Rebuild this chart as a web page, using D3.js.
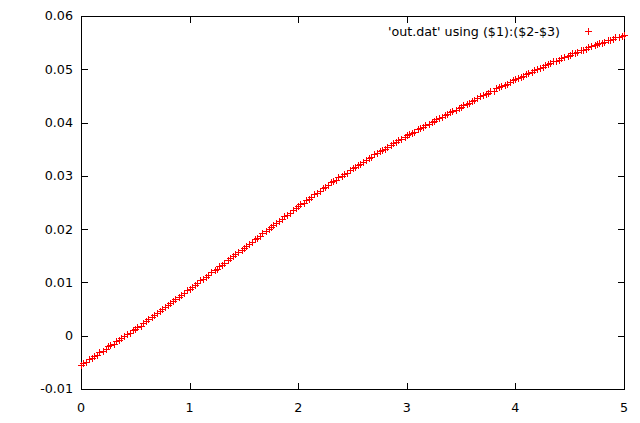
<!DOCTYPE html>
<html>
<head>
<meta charset="utf-8">
<script src="https://cdn.jsdelivr.net/npm/d3@7"></script>
<style>
html,body{margin:0;padding:0;background:#fff;}
svg{display:block;}
text{font-family:"DejaVu Sans",sans-serif;font-size:12.7px;fill:#000;}
</style>
</head>
<body>
<script>
const xTicks = [0, 1, 2, 3, 4, 5];
const yTicks = [-0.01, 0, 0.01, 0.02, 0.03, 0.04, 0.05, 0.06];
const legendLabel = "'out.dat' using ($1):($2-$3)";

const xs = [
0,0.02,0.05,0.07,0.10,0.12,0.15,0.17,0.20,0.23,
0.25,0.27,0.30,0.32,0.35,0.37,0.40,0.42,0.45,0.48,
0.50,0.52,0.55,0.57,0.60,0.62,0.65,0.67,0.70,0.73,
0.75,0.77,0.80,0.82,0.85,0.87,0.90,0.92,0.95,0.98,
1.00,1.02,1.05,1.07,1.10,1.12,1.15,1.17,1.20,1.23,
1.25,1.27,1.30,1.32,1.35,1.37,1.40,1.42,1.45,1.48,
1.50,1.52,1.55,1.57,1.60,1.62,1.65,1.67,1.70,1.73,
1.75,1.77,1.80,1.82,1.85,1.87,1.90,1.92,1.95,1.98,
2.00,2.02,2.05,2.07,2.10,2.12,2.15,2.17,2.20,2.23,
2.25,2.27,2.30,2.32,2.35,2.37,2.40,2.42,2.45,2.48,
2.50,2.52,2.55,2.57,2.60,2.62,2.65,2.67,2.70,2.73,
2.75,2.77,2.80,2.82,2.85,2.87,2.90,2.92,2.95,2.98,
3.00,3.02,3.05,3.07,3.10,3.12,3.15,3.17,3.20,3.23,
3.25,3.27,3.30,3.32,3.35,3.37,3.40,3.42,3.45,3.48,
3.50,3.52,3.55,3.57,3.60,3.62,3.65,3.67,3.70,3.73,
3.75,3.77,3.80,3.82,3.85,3.87,3.90,3.92,3.95,3.98,
4.00,4.02,4.05,4.07,4.10,4.12,4.15,4.17,4.20,4.23,
4.25,4.27,4.30,4.32,4.35,4.37,4.40,4.42,4.45,4.48,
4.50,4.52,4.55,4.57,4.60,4.62,4.65,4.67,4.70,4.73,
4.75,4.77,4.80,4.82,4.85,4.87,4.90,4.92,4.95,4.98,
5.00
];
const ys = [
-0.0055,-0.0051,-0.0049,-0.0044,-0.0042,-0.0038,-0.0036,-0.0031,-0.0029,-0.0024,
-0.0020,-0.0018,-0.0015,-0.0010,-0.0008,-0.0004,-0.0001,0.0003,0.0005,0.0010,
0.0013,0.0017,0.0019,0.0024,0.0027,0.0031,0.0036,0.0038,0.0042,0.0047,
0.0050,0.0054,0.0057,0.0061,0.0066,0.0068,0.0072,0.0076,0.0081,0.0085,
0.0088,0.0092,0.0095,0.0099,0.0104,0.0106,0.0110,0.0114,0.0119,0.0123,
0.0126,0.0130,0.0133,0.0137,0.0143,0.0145,0.0149,0.0154,0.0157,0.0161,
0.0165,0.0169,0.0172,0.0176,0.0182,0.0184,0.0188,0.0193,0.0196,0.0200,
0.0204,0.0208,0.0211,0.0216,0.0219,0.0224,0.0227,0.0230,0.0236,0.0239,
0.0243,0.0247,0.0249,0.0254,0.0257,0.0261,0.0266,0.0268,0.0272,0.0277,
0.0280,0.0282,0.0288,0.0290,0.0293,0.0297,0.0300,0.0304,0.0306,0.0311,
0.0314,0.0316,0.0321,0.0323,0.0326,0.0330,0.0333,0.0335,0.0341,0.0343,
0.0346,0.0349,0.0351,0.0355,0.0358,0.0361,0.0363,0.0367,0.0370,0.0372,
0.0376,0.0379,0.0381,0.0383,0.0388,0.0389,0.0392,0.0395,0.0397,0.0401,
0.0403,0.0406,0.0408,0.0410,0.0414,0.0417,0.0419,0.0422,0.0424,0.0428,
0.0430,0.0433,0.0435,0.0437,0.0441,0.0442,0.0446,0.0449,0.0451,0.0453,
0.0456,0.0459,0.0460,0.0464,0.0466,0.0469,0.0471,0.0472,0.0477,0.0479,
0.0481,0.0484,0.0485,0.0488,0.0492,0.0493,0.0495,0.0498,0.0500,0.0502,
0.0505,0.0508,0.0509,0.0511,0.0515,0.0516,0.0517,0.0521,0.0523,0.0524,
0.0527,0.0530,0.0531,0.0532,0.0536,0.0537,0.0538,0.0541,0.0544,0.0545,
0.0547,0.0549,0.0550,0.0552,0.0555,0.0555,0.0557,0.0560,0.0561,0.0562,
0.0564
];

const W = 640, H = 423;
const L = 81, R = 624, T = 16, B = 389;
const x = d3.scaleLinear().domain([0, 5]).range([L, R]);
const y = d3.scaleLinear().domain([-0.01, 0.06]).range([B, T]);
const px = v => Math.round(v) + 0.5;
const tickLen = 7;

const svg = d3.select("body").append("svg").attr("width", W).attr("height", H);

const yLabel = v => (+v.toFixed(2)).toString();

// ticks (inward, mirrored)
const g = svg.append("g").attr("stroke", "#000").attr("stroke-width", 1).attr("shape-rendering", "crispEdges");
yTicks.forEach(t => {
  const yy = px(y(t));
  g.append("line").attr("x1", L).attr("x2", L + tickLen).attr("y1", yy).attr("y2", yy);
  g.append("line").attr("x1", R + 1).attr("x2", R + 1 - tickLen).attr("y1", yy).attr("y2", yy);
});
xTicks.forEach(t => {
  const xx = px(x(t));
  g.append("line").attr("x1", xx).attr("x2", xx).attr("y1", B + 1).attr("y2", B + 1 - tickLen);
  g.append("line").attr("x1", xx).attr("x2", xx).attr("y1", T).attr("y2", T + tickLen);
});
// frame
g.append("rect").attr("x", px(L)).attr("y", px(T)).attr("width", R - L).attr("height", B - T).attr("fill", "none");

// tick labels
svg.append("g").selectAll("text").data(yTicks).join("text")
  .attr("x", 73).attr("y", d => y(d)).attr("dy", "0.35em")
  .attr("text-anchor", "end").text(yLabel);
svg.append("g").selectAll("text").data(xTicks).join("text")
  .attr("x", d => x(d)).attr("y", 411.5)
  .attr("text-anchor", "middle").text(d => d);

// points
const plus = (cx, cy) => `M${cx - 3.5},${cy}H${cx + 3.5}M${cx},${cy - 3.5}V${cy + 3.5}`;
const data = xs.map((v, i) => [v, ys[i]]);
svg.append("path")
  .attr("d", data.map(d => plus(px(x(d[0])), px(y(d[1])))).join(""))
  .attr("stroke", "#ff0000").attr("stroke-width", 1).attr("fill", "none")
  .attr("shape-rendering", "crispEdges");

// legend
svg.append("text").attr("x", 560).attr("y", 32).attr("dy", "0.35em")
  .attr("text-anchor", "end").text(legendLabel);
svg.append("path").attr("d", plus(588.5, 31.5))
  .attr("stroke", "#ff0000").attr("stroke-width", 1).attr("fill", "none")
  .attr("shape-rendering", "crispEdges");
</script>
</body>
</html>
